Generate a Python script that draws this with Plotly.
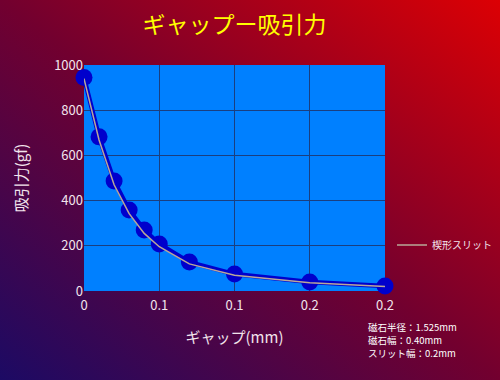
import base64
import plotly.graph_objects as go

# Data
gap_mm = [0, 0.01, 0.02, 0.03, 0.04, 0.05, 0.07, 0.1, 0.15, 0.2]
force_main = [945, 682, 487, 358, 270, 208, 128, 75, 40, 22]
force_wedge = [940, 668, 470, 342, 255, 196, 120, 70, 37, 20]
x_tickvals = [0, 0.05, 0.1, 0.15, 0.2]
x_ticktext = ["0", "0.1", "0.1", "0.2", "0.2"]
y_tickvals = [0, 200, 400, 600, 800, 1000]
note_lines = ["磁石半径：1.525mm", "磁石幅：0.40mm", "スリット幅：0.2mm"]

W, H = 500, 380
ML, MR, MT, MB = 84, 115, 65, 89
PW, PH = W - ML - MR, H - MT - MB

svg = (
    '<svg xmlns="http://www.w3.org/2000/svg" width="500" height="380" viewBox="0 0 500 380" preserveAspectRatio="none">'
    '<defs><linearGradient id="g" x1="0" y1="1" x2="1" y2="0">'
    '<stop offset="0" stop-color="#1c0a64"/>'
    '<stop offset="0.5" stop-color="#72002f"/>'
    '<stop offset="1" stop-color="#dc0004"/>'
    '</linearGradient></defs>'
    '<rect x="0" y="0" width="500" height="380" fill="url(#g)"/></svg>'
)
svg_uri = "data:image/svg+xml;base64," + base64.b64encode(svg.encode()).decode()

font_fam = "Noto Sans CJK JP"
txt_col = "#f2e4ec"

fig = go.Figure()
fig.add_trace(go.Scatter(
    x=gap_mm, y=force_main, mode="lines+markers",
    line=dict(color="#0000cc", width=4.5),
    marker=dict(color="#0000cc", size=17),
    showlegend=False, cliponaxis=False,
))
fig.add_trace(go.Scatter(
    x=gap_mm, y=force_wedge, mode="lines", name="楔形スリット",
    line=dict(color="#b8a898", width=1.5),
    showlegend=True,
))

annotations = []
for i, line in enumerate(note_lines):
    annotations.append(dict(
        text=line, xref="paper", yref="paper",
        x=(366 - ML) / PW, y=(291 - (327 + 13 * i)) / PH,
        xanchor="left", yanchor="middle", align="left", showarrow=False,
        font=dict(size=9.5, color="#ffffff"),
    ))

fig.update_layout(
    width=W, height=H,
    margin=dict(l=ML, r=MR, t=MT, b=MB, autoexpand=False),
    paper_bgcolor="#600030",
    plot_bgcolor="#0080ff",
    font=dict(family=font_fam, color=txt_col, size=13),
    title=dict(text="ギャップー吸引力", x=0.5, xref="paper", xanchor="center",
               y=1 - 25 / H, yanchor="middle",
               font=dict(color="#ffff00", size=23, family=font_fam)),
    images=[dict(source=svg_uri, xref="paper", yref="paper",
                 x=-ML / PW, y=(H - MB) / PH, sizex=W / PW, sizey=H / PH,
                 xanchor="left", yanchor="top", sizing="stretch", layer="below")],
    shapes=[dict(type="rect", xref="paper", yref="paper", x0=0, y0=0, x1=1, y1=1,
                 fillcolor="#0080ff", line=dict(width=0), layer="below")],
    legend=dict(x=(392 - ML) / PW, y=(291 - 245) / PH, xanchor="left", yanchor="middle",
                bgcolor="rgba(0,0,0,0)", font=dict(size=10, color=txt_col),
                itemwidth=30),
    annotations=annotations,
)
fig.update_xaxes(range=[0, 0.2], tickvals=x_tickvals, ticktext=x_ticktext,
                 showgrid=True, gridcolor="#1a3f80", gridwidth=1,
                 zeroline=False, showline=False, ticks="", automargin=False,
                 ticklabelstandoff=5,
                 tickfont=dict(size=13, color=txt_col),
                 title=dict(text="ギャップ(mm)", font=dict(size=15, color=txt_col), standoff=19))
fig.update_yaxes(range=[0, 1000], tickvals=y_tickvals,
                 showgrid=True, gridcolor="#1a3f80", gridwidth=1,
                 zeroline=False, showline=False, ticks="", automargin=False,
                 tickfont=dict(size=13, color=txt_col),
                 title=dict(text="吸引力(gf)", font=dict(size=15, color=txt_col), standoff=22))

fig.write_html("out.html", config={"displayModeBar": False},
               post_script="document.body.style.margin='0';")
